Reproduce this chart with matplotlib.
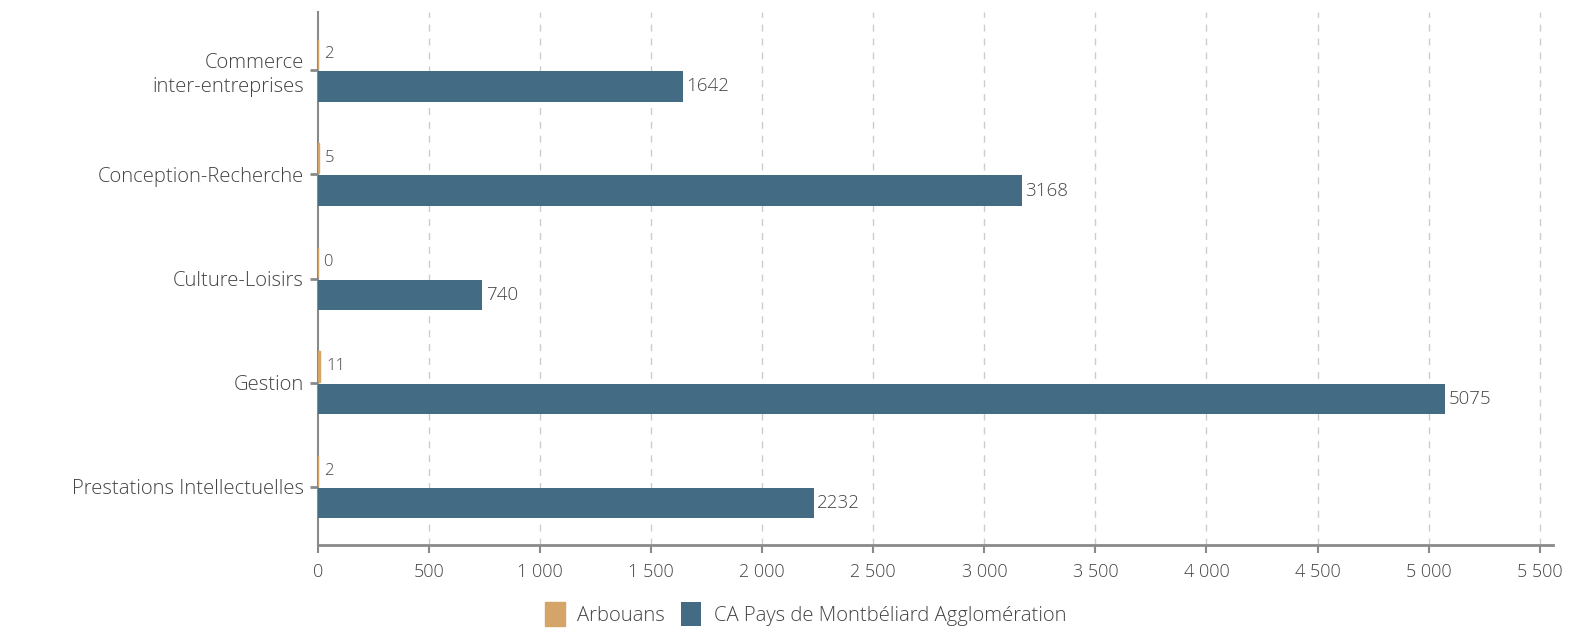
import matplotlib
matplotlib.use('Agg')
from matplotlib import pyplot as plt
import numpy as np

categories = ['Commerce\ninter-entreprises', 'Conception-Recherche', 'Culture-Loisirs',
              'Gestion', 'Prestations Intellectuelles']
arbouans = [2, 5, 0, 11, 2]
ca_pma = [1642, 3168, 740, 5075, 2232]
series_names = ['Arbouans', 'CA Pays de Montbéliard Agglomération']
x_ticks = list(range(0, 5501, 500))

col_a = '#D4A468'
col_b = '#446B84'
txt = '#444444'
axis_col = '#8a8a8a'

plt.rcParams['font.family'] = ['Open Sans', 'DejaVu Sans']
plt.rcParams['font.weight'] = 'light'

fig = plt.figure(figsize=(15.73, 6.36), dpi=100)
ax = fig.add_axes([318 / 1573, 91 / 636, (1553 - 318) / 1573, (545 - 12) / 636])

y = np.arange(len(categories))
h = 0.29
ax.barh(y - 0.155, arbouans, height=h, color=col_a, edgecolor=col_a, linewidth=1.0,
        label=series_names[0], zorder=3)
ax.barh(y + 0.155, ca_pma, height=h, color=col_b, label=series_names[1], zorder=3)

for yi, v in zip(y, arbouans):
    ax.text(v + 25, yi - 0.155, str(v), va='center', ha='left', fontsize=12, color=txt)
for yi, v in zip(y, ca_pma):
    ax.text(v + 15, yi + 0.155, str(v), va='center', ha='left', fontsize=13.5, color=txt)

ax.set_yticks(y)
ax.set_yticklabels(categories, fontsize=14.6, color=txt, linespacing=1.3)
ax.set_ylim(len(categories) - 0.44, -0.56)
ax.set_xlim(0, 5560)
ax.set_xticks(x_ticks)
ax.set_xticklabels([f'{t:,}'.replace(',', ' ') for t in x_ticks], fontsize=13, color=txt)

for t in x_ticks[1:]:
    ax.axvline(t, color='#cccccc', linestyle=(0, (5, 5)), linewidth=1, zorder=1)

for s in ['top', 'right']:
    ax.spines[s].set_visible(False)
ax.spines['left'].set_color(axis_col)
ax.spines['left'].set_linewidth(1.5)
ax.spines['bottom'].set_color(axis_col)
ax.spines['bottom'].set_linewidth(2)
ax.tick_params(axis='y', length=6, width=2, color=axis_col, pad=4)
ax.tick_params(axis='x', length=6, width=1.5, color=axis_col, pad=7)

fig.legend(loc='center', bbox_to_anchor=(0.512, 22 / 636), ncol=2, frameon=False,
           fontsize=14.6, labelcolor=txt, handlelength=1.0, handleheight=1.4,
           handletextpad=0.6, columnspacing=0.8)

fig.savefig('out.png', dpi=100)
